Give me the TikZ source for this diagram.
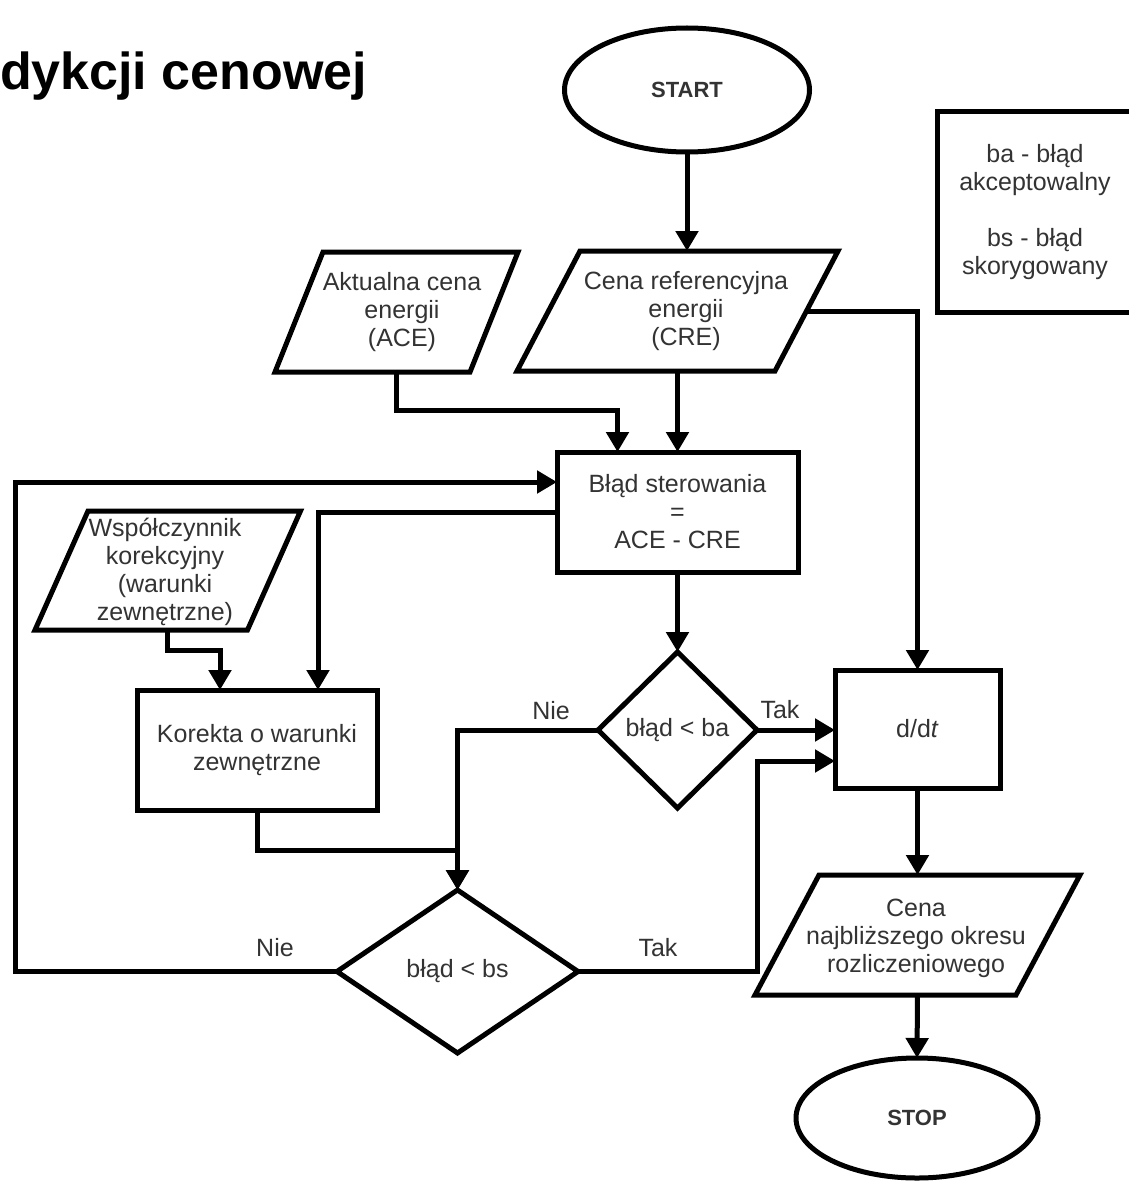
\documentclass[tikz,border=0pt]{standalone}
\usepackage{fontspec}
\setmainfont{Liberation Sans}
\usetikzlibrary{shapes.geometric,arrows.meta,calc}
\definecolor{txtc}{HTML}{333333}
\newcommand\drawpara[2]{\draw[line width=5pt,line join=miter] ([xshift=#2]#1.north west) -- ([xshift=#2]#1.north east) -- ([xshift=-#2]#1.south east) -- ([xshift=-#2]#1.south west) -- cycle;}
\tikzset{
  every node/.style={font=\fontsize{25}{28}\selectfont, text=txtc, inner sep=0pt, outer sep=0pt},
  arr/.style={line width=5pt, line join=miter, -{Triangle[length=20pt,width=22pt]}},
  boxn/.style={draw, line width=5pt, rectangle, align=center},
  ell/.style={draw, line width=5pt, ellipse, font=\bfseries\fontsize{22}{26}\selectfont},
  dec/.style={draw, line width=5pt, diamond, line join=miter},
  lbl/.style={font=\fontsize{25}{28}\selectfont}
}
\begin{document}
\begin{tikzpicture}[x=1pt,y=-1pt]
\useasboundingbox (0,0) rectangle (1128,1196);
\fill[white] (0,0) rectangle (1128,1196);

\node[anchor=base west, font=\bfseries\fontsize{52}{60}\selectfont, text=black] (title) at (0,90) {dykcji cenowej};

\node[ell, minimum width=245pt, minimum height=124pt] (start) at (687,90) {START};
\node[ell, minimum width=242pt, minimum height=120pt] (stop) at (917,1118) {STOP};

\node[minimum width=195pt, minimum height=120pt] (ace) at (396.5,312) {};
\node[align=center] (acet) at (402,312) {Aktualna cena\\energii\\(ACE)};
\drawpara{ace}{24pt}

\node[minimum width=258pt, minimum height=120pt] (cre) at (677.5,311) {};
\node[align=center] (cret) at (686,311) {Cena referencyjna\\energii\\(CRE)};
\drawpara{cre}{31.5pt}

\node[boxn, minimum width=196pt, minimum height=200pt] (leg) at (1035,212) {ba - błąd\\akceptowalny\\[28pt]bs - błąd\\skorygowany};

\node[boxn, minimum width=241pt, minimum height=120pt] (blad) at (677.5,512) {Błąd sterowania\\=\\ACE - CRE};

\node[minimum width=212.5pt, minimum height=119pt] (wsp) at (167.75,570.5) {};
\node[align=center] (wspt) at (165,572) {Współczynnik\\korekcyjny\\(warunki\\zewnętrzne)};
\drawpara{wsp}{26.5pt}

\node[boxn, minimum width=240pt, minimum height=120pt] (kor) at (257,750) {Korekta o warunki\\zewnętrzne};

\node[dec, minimum width=159pt, minimum height=156pt] (d1) at (677.5,730) {błąd < ba};
\node[dec, minimum width=241pt, minimum height=163pt] (d2) at (457.5,971.5) {błąd < bs};

\node[boxn, minimum width=165pt, minimum height=118pt] (ddt) at (917.5,729) {d/d\textit{t}};

\node[minimum width=261pt, minimum height=120pt] (cena) at (917.5,935) {};
\node[align=center] (cenat) at (916,938) {Cena\\najbliższego okresu\\rozliczeniowego};
\drawpara{cena}{32pt}

% connectors
\draw[arr] (start.south) -- (start.south |- cre.north);
\draw[arr] (ace.south) |- ([xshift=-60pt,yshift=42pt]blad.north) -- ([xshift=-60pt]blad.north);
\draw[arr] (cre.south) -- (blad.north);
\draw[arr] (cre.east) -| (ddt.north);
\draw[arr] (blad.south) -- (d1.north);
\draw[arr] (d1.east) -- (d1.east -| ddt.west);
\draw[arr] (d1.west) -| (d2.north);
\draw[arr] (wsp.south) |- ([xshift=-37pt,yshift=40pt]kor.north) -- ([xshift=-37pt]kor.north);
\draw[arr] (blad.west) -| ([xshift=61pt]kor.north);
\draw[arr] (kor.south) |- ([yshift=40pt]d2.north) -- (d2.north);
\draw[arr] (d2.east) -- ++(179,0) |- ([yshift=-32pt]ddt.west);
\coordinate (lp) at (15,482);
\draw[arr] (d2.west) -| (lp) -- ([yshift=30pt]blad.west);
\draw[arr] (ddt.south) -- (ddt.south |- cena.north);
\draw[arr] (cena.south) -- (stop.north);

% labels
\node[lbl] (l1) at (551,711) {Nie};
\node[lbl] (l2) at (780,710) {Tak};
\node[lbl] (l3) at (275,948) {Nie};
\node[lbl] (l4) at (658,948) {Tak};
\end{tikzpicture}
\end{document}
